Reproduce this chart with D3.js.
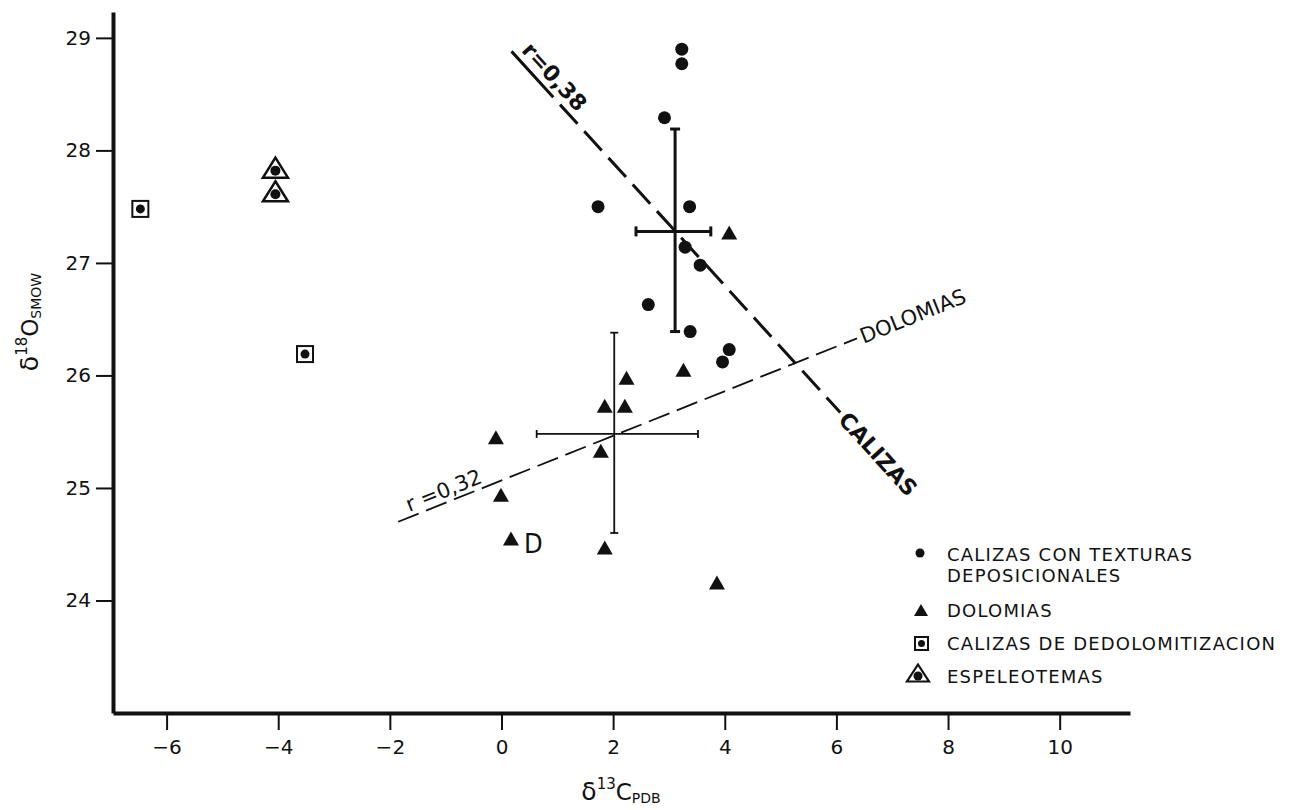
<!DOCTYPE html>
<html>
<head>
<meta charset="utf-8">
<script src="https://cdn.jsdelivr.net/npm/d3@7"></script>
<style>
body { margin: 0; background: #fff; }
svg text { font-family: "DejaVu Sans", sans-serif; fill: #111; }
.cond { font-family: "DejaVu Sans Condensed", "DejaVu Sans", sans-serif; font-stretch: condensed; }
.axis path, .axis line { stroke: #111; }
</style>
</head>
<body>
<div id="chart"></div>
<script>
// values: [d13C PDB, d18O SMOW]
var calizas = [[3.23,28.90],[3.23,28.77],[2.92,28.29],[1.73,27.50],[3.37,27.50],[3.29,27.14],
               [3.56,26.98],[2.63,26.63],[3.38,26.39],[4.08,26.23],[3.96,26.12]];
var dolomias = [[4.08,27.27],[3.26,26.05],[2.24,25.98],[1.85,25.73],[2.21,25.73],[-0.10,25.45],
                [1.78,25.33],[-0.01,24.94],[0.17,24.55],[1.85,24.47],[3.86,24.16]];
var dedolomitizacion = [[-6.47,27.48],[-3.52,26.19]];
var espeleotemas = [[-4.05,27.82],[-4.05,27.61]];

// mean with range bars
var calizasMean  = {x: 3.11, y: 27.28, x0: 2.41, x1: 3.75, y0: 26.39, y1: 28.19};
var dolomiasMean = {x: 2.02, y: 25.48, x0: 0.63, x1: 3.52, y0: 24.60, y1: 26.38};

// regression lines
var calizasLine  = [[0.18,28.88],[6.07,25.67]];
var dolomiasLine = [[-1.85,24.70],[6.37,26.33]];

var xTicks = [-6,-4,-2,0,2,4,6,8,10];
var yTicks = [24,25,26,27,28,29];
var legendLabels = [["CALIZAS CON TEXTURAS","DEPOSICIONALES"],["DOLOMIAS"],
                    ["CALIZAS DE DEDOLOMITIZACION"],["ESPELEOTEMAS"]];

var width = 1293, height = 810;

var svg = d3.select("#chart").append("svg")
    .attr("width", width)
    .attr("height", height);

var x = d3.scaleLinear().domain([-6.96, 11.26]).range([113, 1130]);
var y = d3.scaleLinear().domain([23.0, 29.23]).range([713, 12]);

// axes
var xAxis = svg.append("g")
    .attr("class", "axis")
    .attr("transform", "translate(0," + y.range()[0] + ")")
    .call(d3.axisBottom(x).tickValues(xTicks).tickSize(17).tickSizeOuter(0).tickPadding(10)
        .tickFormat(d => d < 0 ? "\u2212" + Math.abs(d) : d));
xAxis.select(".domain").attr("stroke-width", 4);
xAxis.selectAll(".tick line").attr("stroke-width", 2);
xAxis.selectAll(".tick text").attr("font-size", 20);

var yAxis = svg.append("g")
    .attr("class", "axis")
    .attr("transform", "translate(" + x.range()[0] + ",0)")
    .call(d3.axisLeft(y).tickValues(yTicks).tickSize(17).tickSizeOuter(0).tickPadding(5)
        .tickFormat(d3.format("d")));
yAxis.select(".domain").attr("stroke-width", 4);
yAxis.selectAll(".tick line").attr("stroke-width", 2);
yAxis.selectAll(".tick text").attr("font-size", 20);

// axis titles
var xt = svg.append("text").attr("x", 621).attr("y", 800).attr("text-anchor", "middle");
xt.append("tspan").attr("font-size", 25).text("\u03b4");
xt.append("tspan").attr("font-size", 15).attr("dy", -11).text("13");
xt.append("tspan").attr("font-size", 23).attr("dy", 11).text("C");
xt.append("tspan").attr("font-size", 14).attr("dy", 3).text("PDB");

var yt = svg.append("text").attr("transform", "translate(38,322) rotate(-90)").attr("text-anchor", "middle");
yt.append("tspan").attr("font-size", 25).text("\u03b4");
yt.append("tspan").attr("font-size", 15).attr("dy", -11).text("18");
yt.append("tspan").attr("font-size", 23).attr("dy", 11).text("O");
yt.append("tspan").attr("font-size", 14).attr("dy", 3).text("SMOW");

// regression lines
function angle(l) {
    return Math.atan2(y(l[1][1]) - y(l[0][1]), x(l[1][0]) - x(l[0][0])) * 180 / Math.PI;
}
var line = d3.line().x(d => x(d[0])).y(d => y(d[1]));

svg.append("path").datum(calizasLine)
    .attr("d", line).attr("fill", "none").attr("stroke", "#111")
    .attr("stroke-width", 3).attr("stroke-dasharray", "62,10" + ",26,10".repeat(20));
svg.append("path").datum(dolomiasLine)
    .attr("d", line).attr("fill", "none").attr("stroke", "#111")
    .attr("stroke-width", 1.8).attr("stroke-dasharray", "22,8");

var aC = angle(calizasLine), aD = angle(dolomiasLine);
svg.append("text")
    .attr("transform", "translate(" + x(calizasLine[0][0]) + "," + y(calizasLine[0][1]) + ") rotate(" + aC + ")")
    .attr("x", 6).attr("y", -7).attr("font-size", 22).attr("font-weight", "bold").text("r=0,38");
svg.append("text")
    .attr("transform", "translate(" + x(calizasLine[1][0]) + "," + y(calizasLine[1][1]) + ") rotate(" + aC + ")")
    .attr("x", 4).attr("dy", "0.35em").attr("font-size", 22).attr("font-weight", "bold").text("CALIZAS");
svg.append("text")
    .attr("transform", "translate(" + x(dolomiasLine[0][0]) + "," + y(dolomiasLine[0][1]) + ") rotate(" + aD + ")")
    .attr("x", 14).attr("y", -5).attr("font-size", 21).text("r =0,32");
svg.append("text")
    .attr("transform", "translate(" + x(dolomiasLine[1][0]) + "," + y(dolomiasLine[1][1]) + ") rotate(" + aD + ")")
    .attr("x", 4).attr("dy", "0.35em").attr("font-size", 21).text("DOLOMIAS");

// mean / range bars
function rangeBars(m, sw, cap) {
    var g = svg.append("g").attr("stroke", "#111").attr("stroke-width", sw);
    g.append("line").attr("x1", x(m.x)).attr("x2", x(m.x)).attr("y1", y(m.y0)).attr("y2", y(m.y1));
    g.append("line").attr("x1", x(m.x0)).attr("x2", x(m.x1)).attr("y1", y(m.y)).attr("y2", y(m.y));
    [m.y0, m.y1].forEach(v => g.append("line").attr("x1", x(m.x) - cap).attr("x2", x(m.x) + cap)
        .attr("y1", y(v)).attr("y2", y(v)));
    [m.x0, m.x1].forEach(v => g.append("line").attr("y1", y(m.y) - cap).attr("y2", y(m.y) + cap)
        .attr("x1", x(v)).attr("x2", x(v)));
}
rangeBars(calizasMean, 3, 5);
rangeBars(dolomiasMean, 1.8, 4);

// marker shapes
function tri(cx, cy, w, h) {
    return "M" + cx + "," + (cy - h / 2) + "L" + (cx + w / 2) + "," + (cy + h / 2) + "L" + (cx - w / 2) + "," + (cy + h / 2) + "Z";
}

svg.append("g").selectAll("circle").data(calizas).enter().append("circle")
    .attr("cx", d => x(d[0])).attr("cy", d => y(d[1])).attr("r", 6.5).attr("fill", "#111");

svg.append("g").selectAll("path").data(dolomias).enter().append("path")
    .attr("d", d => tri(x(d[0]), y(d[1]), 16, 14)).attr("fill", "#111");

var ded = svg.append("g").selectAll("g").data(dedolomitizacion).enter().append("g");
ded.append("rect").attr("x", d => x(d[0]) - 8).attr("y", d => y(d[1]) - 8).attr("width", 16).attr("height", 16)
    .attr("fill", "none").attr("stroke", "#111").attr("stroke-width", 2);
ded.append("circle").attr("cx", d => x(d[0])).attr("cy", d => y(d[1])).attr("r", 4.5).attr("fill", "#111");

var esp = svg.append("g").selectAll("g").data(espeleotemas).enter().append("g");
esp.append("path").attr("d", d => tri(x(d[0]), y(d[1]) - 3, 25, 20))
    .attr("fill", "none").attr("stroke", "#111").attr("stroke-width", 2.5).attr("stroke-linejoin", "miter");
esp.append("circle").attr("cx", d => x(d[0])).attr("cy", d => y(d[1])).attr("r", 5).attr("fill", "#111");

// the "D" sample
svg.append("text").attr("class", "cond")
    .attr("x", x(dolomias[8][0]) + 13).attr("y", y(dolomias[8][1]) + 14)
    .attr("font-size", 27).text("D");

// legend
var lg = svg.append("g").attr("transform", "translate(920,0)");
var rowsY = [561, 617, 650, 683];
lg.append("circle").attr("cx", 0).attr("cy", 553).attr("r", 4.5).attr("fill", "#111");
lg.append("path").attr("d", tri(1, 610, 14, 12)).attr("fill", "#111");
lg.append("rect").attr("x", -5).attr("y", 637).attr("width", 13).attr("height", 13)
    .attr("fill", "none").attr("stroke", "#111").attr("stroke-width", 2);
lg.append("circle").attr("cx", 1.5).attr("cy", 643.5).attr("r", 3.5).attr("fill", "#111");
lg.append("path").attr("d", tri(-2, 673, 22, 17)).attr("fill", "none").attr("stroke", "#111").attr("stroke-width", 2.2);
lg.append("circle").attr("cx", -2).attr("cy", 676).attr("r", 4.5).attr("fill", "#111");

legendLabels.forEach(function(lines, i) {
    lines.forEach(function(t, j) {
        lg.append("text").attr("x", 27).attr("y", rowsY[i] + j * 21)
            .attr("font-size", 18).attr("letter-spacing", 1.2).text(t);
    });
});
</script>
</body>
</html>
